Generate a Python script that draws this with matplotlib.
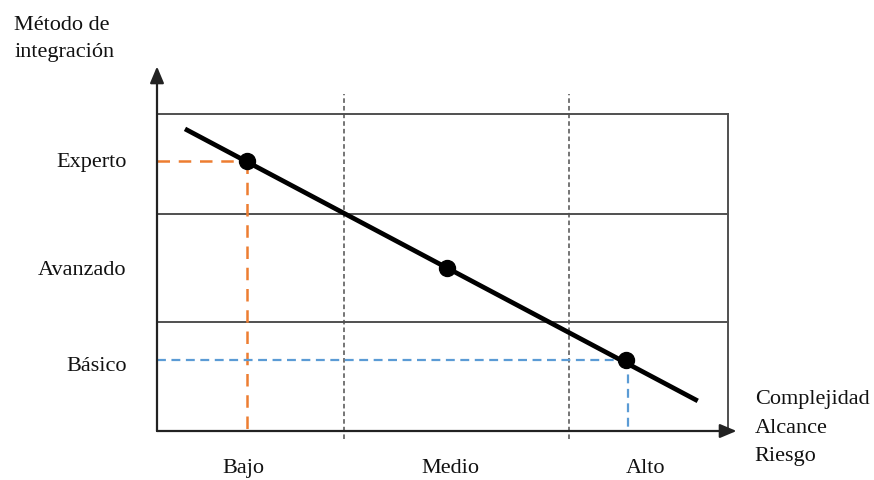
import matplotlib
matplotlib.use("Agg")
import matplotlib.pyplot as plt

# Data (chart units: x 0-100 across the grid, y 0-100 up the grid)
levels = ["Básico", "Avanzado", "Experto"]
level_y = [20.8, 50.8, 84.9]
categories = ["Bajo", "Medio", "Alto"]
category_x = [15.2, 51.3, 85.5]
points_x = [15.8, 50.8, 82.1]
points_y = [85.2, 51.4, 22.4]
trend_x = [4.9, 94.7]
trend_y = [95.3, 9.5]
hlines_y = [34.4, 68.5, 100.0]
vdash_x = [32.7, 72.2]
x_title = ["Complejidad", "Alcance", "Riesgo"]
y_title = "Método de\nintegración"

plt.rcParams['font.family'] = ['Liberation Serif', 'DejaVu Serif']

fig = plt.figure(figsize=(8.74, 4.81), dpi=100)
ax = fig.add_axes([157/874, 49/481, 571/874, 317/481])
ax.set_xlim(0, 100)
ax.set_ylim(0, 100)
ax.axis('off')

grid_c = '#505050'
# grid box
for y in hlines_y:
    ax.plot([0, 100], [y, y], color=grid_c, lw=1.4, clip_on=False, zorder=1)
ax.plot([100, 100], [0, 100], color=grid_c, lw=1.4, clip_on=False, zorder=1)
for x in vdash_x:
    ax.plot([x, x], [-2.5, 106.3], color=grid_c, lw=1.1, ls=(0, (3, 2)), clip_on=False, zorder=1)

# axes with arrows
arrow_style = '-|>,head_length=1.0,head_width=0.42'
ax.annotate('', xy=(0, 115), xytext=(0, 0),
            arrowprops=dict(arrowstyle=arrow_style, color='#222222', lw=1.6,
                            shrinkA=0, shrinkB=0), annotation_clip=False)
ax.annotate('', xy=(101.5, 0), xytext=(0, 0),
            arrowprops=dict(arrowstyle=arrow_style, color='#222222', lw=1.6,
                            shrinkA=0, shrinkB=0), annotation_clip=False)

# dashed projections
orange = '#ED7D31'
blue = '#5B9BD5'
ax.plot([0, points_x[0]], [points_y[0], points_y[0]], color=orange, lw=1.8, ls=(0, (5, 3.5)), zorder=2)
ax.plot([points_x[0], points_x[0]], [points_y[0], 0], color=orange, lw=1.8, ls=(0, (5, 3.5)), zorder=2)
ax.plot([0, points_x[2]], [points_y[2], points_y[2]], color=blue, lw=1.6, ls=(0, (4, 2.5)), zorder=2)
ax.plot([points_x[2] + 0.35, points_x[2] + 0.35], [points_y[2], 0], color=blue, lw=1.6, ls=(0, (4, 2.5)), zorder=2)

# trend line and points
ax.plot(trend_x, trend_y, color='black', lw=3.4, solid_capstyle='butt', zorder=3)
ax.plot(points_x, points_y, 'o', color='black', ms=11.5, zorder=4)

fs = 16
for lab, y in zip(levels, level_y):
    ax.text(-5.3, y, lab, ha='right', va='center', fontsize=fs, color='#111111')
for lab, x in zip(categories, category_x):
    ax.text(x, -11.4, lab, ha='center', va='center', fontsize=fs, color='#111111')
for i, lab in enumerate(x_title):
    ax.text(104.7, 10.1 - i * 8.85, lab, ha='left', va='center', fontsize=fs, color='#111111')
ax.text(-25.0, 124.0, y_title, ha='left', va='center', fontsize=fs, color='#111111',
        linespacing=1.6)

fig.savefig('out.png', dpi=100)
